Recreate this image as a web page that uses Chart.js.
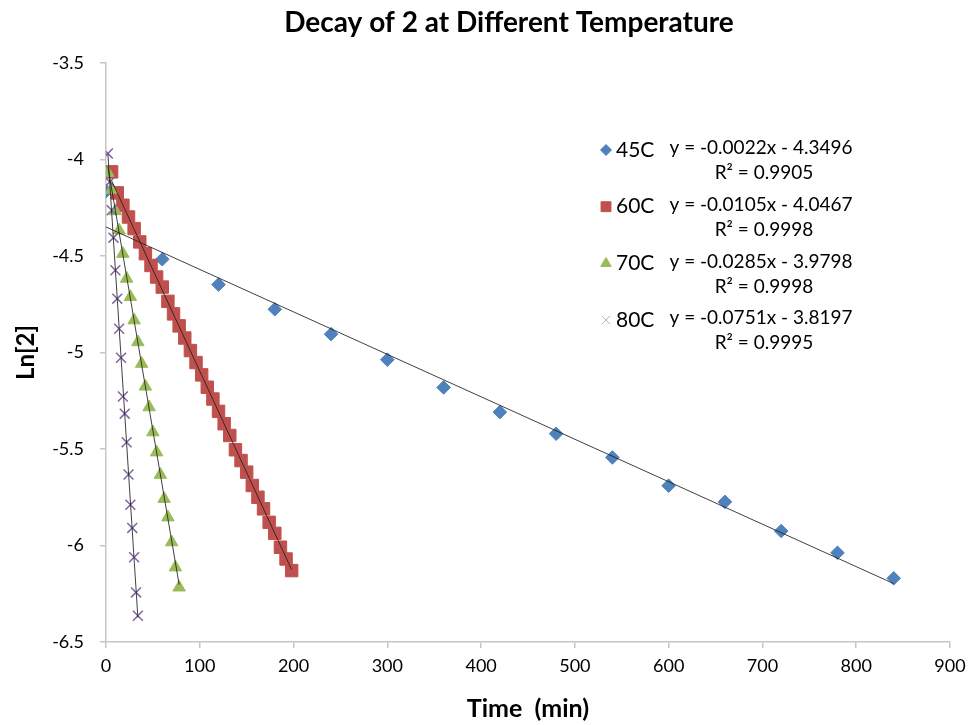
<!DOCTYPE html>
<html>
<head>
<meta charset="utf-8">
<script src="https://cdn.jsdelivr.net/npm/chart.js@4.4.1/dist/chart.umd.min.js"></script>
<style>
html,body{margin:0;padding:0;background:#ffffff;}
#wrap{width:973px;height:725px;position:relative;}
canvas{display:block;}
</style>
</head>
<body>
<div id="wrap"><canvas id="c" width="973" height="725"></canvas></div>
<script>
// ---------- text ----------
const chartTitle = 'Decay of 2 at Different Temperature';
const xAxisTitle = 'Time  (min)';
const yAxisTitle = 'Ln[2]';
const seriesNames = ['45C', '60C', '70C', '80C'];
const trendEquations = ['y = -0.0022x - 4.3496', 'y = -0.0105x - 4.0467', 'y = -0.0285x - 3.9798', 'y = -0.0751x - 3.8197'];
const trendR2 = ['R\u00B2 = 0.9905', 'R\u00B2 = 0.9998', 'R\u00B2 = 0.9998', 'R\u00B2 = 0.9995'];
// trendline coefficients, as printed on the chart
const trendSlopes = [-0.0022, -0.0105, -0.0285, -0.0751];
const trendIntercepts = [-4.3496, -4.0467, -3.9798, -3.8197];

// ---------- data ----------
const time45 = [0, 60, 120, 180, 240, 300, 360, 420, 480, 540, 600, 660, 720, 780, 840];
const ln45 = [-4.164, -4.517, -4.648, -4.776, -4.905, -5.037, -5.181, -5.309, -5.421, -5.544, -5.690, -5.774, -5.925, -6.038, -6.170];

const time60 = [6, 12, 18, 24, 30, 36, 42, 48, 54, 60, 66, 72, 78, 84, 90, 96, 102, 108, 114, 120, 126, 132, 138, 144, 150, 156, 162, 168, 174, 180, 186, 192, 198];
const ln60 = [-4.064, -4.173, -4.237, -4.298, -4.358, -4.427, -4.488, -4.549, -4.609, -4.661, -4.735, -4.800, -4.862, -4.925, -4.990, -5.052, -5.116, -5.180, -5.241, -5.305, -5.369, -5.430, -5.504, -5.560, -5.620, -5.689, -5.750, -5.810, -5.880, -5.937, -6.009, -6.070, -6.130];

const time70 = [2, 6, 10, 14, 18, 22, 26, 30, 34, 38, 42, 46, 50, 54, 58, 62, 66, 70, 74, 78];
const ln70 = [-4.069, -4.156, -4.267, -4.367, -4.488, -4.617, -4.712, -4.833, -4.946, -5.058, -5.176, -5.283, -5.413, -5.517, -5.633, -5.758, -5.854, -5.983, -6.113, -6.217];

const time80 = [2, 4, 6, 8, 10, 12, 14, 16, 18, 20, 22, 24, 26, 28, 30, 32, 34];
const ln80 = [-3.969, -4.116, -4.263, -4.405, -4.574, -4.721, -4.877, -5.027, -5.228, -5.317, -5.465, -5.632, -5.789, -5.909, -6.061, -6.243, -6.364];

// ---------- ticks ----------
const xTickValues = [0, 100, 200, 300, 400, 500, 600, 700, 800, 900];
const xTickLabels = ['0', '100', '200', '300', '400', '500', '600', '700', '800', '900'];
const yTickValues = [-6.5, -6, -5.5, -5, -4.5, -4, -3.5];
const yTickLabels = ['-6.5', '-6', '-5.5', '-5', '-4.5', '-4', '-3.5'];

// ---------- styles ----------
const seriesColors = ['#4F81BD', '#C0504D', '#9BBB59', '#8064A2'];
const seriesStyles = ['rectRot', 'rect', 'triangle', 'crossRot'];
const seriesRadius = [6.8, 8.8, 7.2, 7];

const FONT = 'Lato, "Liberation Sans", sans-serif';

function pts(xs, ys) { return xs.map((x, i) => ({x: x, y: ys[i]})); }
function trendPts(xs, i) {
  const x0 = Math.min(...xs), x1 = Math.max(...xs);
  return [{x: x0, y: trendIntercepts[i] + trendSlopes[i] * x0}, {x: x1, y: trendIntercepts[i] + trendSlopes[i] * x1}];
}

const allX = [time45, time60, time70, time80];
const allY = [ln45, ln60, ln70, ln80];

const datasets = [];
allX.forEach((xs, i) => {
  datasets.push({
    label: seriesNames[i],
    data: pts(xs, allY[i]),
    showLine: false,
    pointStyle: seriesStyles[i],
    pointRadius: seriesRadius[i],
    pointHoverRadius: seriesRadius[i],
    pointBackgroundColor: seriesColors[i],
    pointBorderColor: seriesColors[i],
    pointBorderWidth: seriesStyles[i] === 'crossRot' ? 1.5 : 1,
    order: 2 + (3 - i)
  });
});
allX.forEach((xs, i) => {
  datasets.push({
    label: 'trend ' + seriesNames[i],
    data: trendPts(xs, i),
    showLine: true,
    borderColor: 'rgba(30,30,30,0.85)',
    borderWidth: 1,
    pointRadius: 0,
    fill: false,
    order: 0
  });
});

const overlayPlugin = {
  id: 'overlay',
  afterDraw(chart) {
    const ctx = chart.ctx;
    ctx.save();
    // title
    ctx.fillStyle = '#000';
    ctx.font = 'bold 28px ' + FONT;
    ctx.textAlign = 'center';
    ctx.textBaseline = 'middle';
    ctx.fillText(chartTitle, 509, 23);
    // legend with trendline labels
    seriesNames.forEach((name, i) => {
      const yRow = 150 + i * 56.7;
      ctx.fillStyle = seriesColors[i];
      ctx.strokeStyle = i === 3 ? 'rgba(128,100,162,0.55)' : seriesColors[i];
      Chart.helpers.drawPoint(ctx, {pointStyle: seriesStyles[i], radius: [5.5, 7, 6, 6][i], borderWidth: 1, rotation: 0}, 606, yRow);
      ctx.fillStyle = '#000';
      ctx.textAlign = 'left';
      ctx.textBaseline = 'middle';
      ctx.font = '21px ' + FONT;
      ctx.fillText(name, 616, yRow);
      ctx.font = '19px ' + FONT;
      ctx.textAlign = 'center';
      ctx.fillText(trendEquations[i], 761, yRow - 2);
      ctx.fillText(trendR2[i], 764, yRow + 23);
    });
    ctx.restore();
  }
};

new Chart(document.getElementById('c'), {
  type: 'scatter',
  data: {datasets: datasets},
  options: {
    responsive: false,
    animation: false,
    layout: {padding: {top: 63, right: 23, bottom: 0, left: 0}},
    plugins: {legend: {display: false}, title: {display: false}, tooltip: {enabled: false}},
    scales: {
      x: {
        type: 'linear',
        min: 0, max: 900,
        afterBuildTicks: (s) => { s.ticks = xTickValues.map(v => ({value: v})); },
        afterFit: (s) => { s.height = 83; },
        ticks: {
          callback: (v) => { const k = xTickValues.indexOf(v); return k >= 0 ? xTickLabels[k] : ''; },
          color: '#000', font: {family: FONT, size: 18}, padding: 7, maxRotation: 0, autoSkip: false
        },
        grid: {drawOnChartArea: false, drawTicks: true, tickLength: 6, color: '#c6c6c6', lineWidth: 1.5},
        border: {display: true, color: '#c6c6c6', width: 1.5},
        title: {display: true, text: xAxisTitle, color: '#000', font: {family: FONT, size: 25, weight: 'bold'}, padding: {top: 0, bottom: 1}}
      },
      y: {
        type: 'linear',
        min: -6.5, max: -3.5,
        afterBuildTicks: (s) => { s.ticks = yTickValues.map(v => ({value: v})); },
        afterFit: (s) => { s.width = 106; },
        ticks: {
          callback: (v) => { const k = yTickValues.indexOf(v); return k >= 0 ? yTickLabels[k] : ''; },
          color: '#000', font: {family: FONT, size: 18}, padding: 16, autoSkip: false
        },
        grid: {drawOnChartArea: false, drawTicks: true, tickLength: 6, color: '#c6c6c6', lineWidth: 1.5},
        border: {display: true, color: '#c6c6c6', width: 1.5},
        title: {display: true, text: yAxisTitle, color: '#000', font: {family: FONT, size: 24, weight: 'bold'}, padding: {top: 12, bottom: 0}}
      }
    }
  },
  plugins: [overlayPlugin]
});
</script>
</body>
</html>
